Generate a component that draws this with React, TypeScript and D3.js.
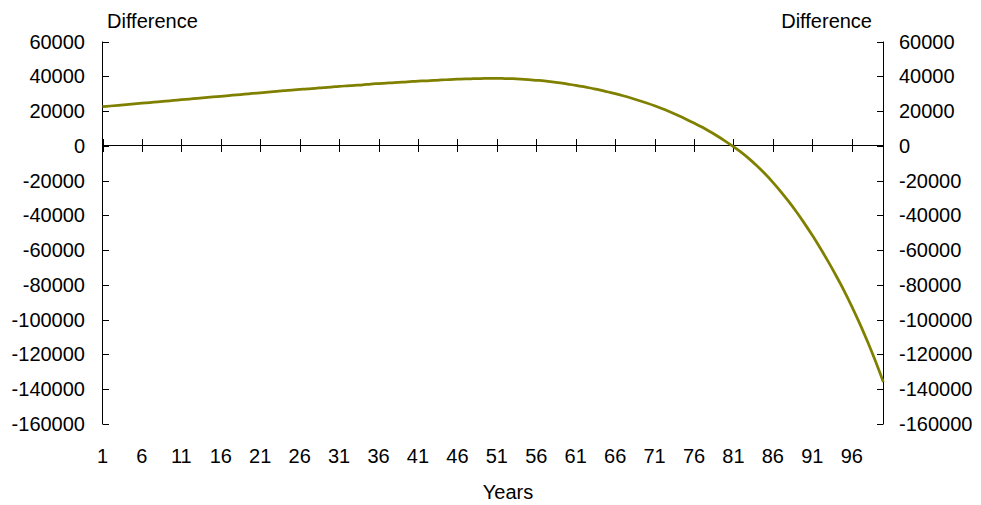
import React from "react";
import * as d3 from "d3";

const years: number[] = Array.from({ length: 100 }, (_, i) => i + 1);

const difference: number[] = [
  22500, 22900, 23300, 23700, 24100, 24500, 24900, 25300, 25700, 26100,
  26500, 26900, 27300, 27700, 28100, 28500, 28900, 29300, 29700, 30100,
  30500, 30900, 31300, 31700, 32000, 32400, 32800, 33100, 33500, 33800,
  34200, 34500, 34800, 35100, 35500, 35800, 36100, 36400, 36600, 36900,
  37200, 37400, 37700, 37900, 38100, 38300, 38500, 38600, 38700, 38800,
  38800, 38700, 38600, 38400, 38100, 37700, 37300, 36800, 36200, 35500,
  34800, 34000, 33100, 32200, 31100, 30000, 28800, 27500, 26100, 24600,
  23000, 21300, 19400, 17400, 15300, 13100, 10800, 8200, 5500, 2600,
  -500, -3800, -7500, -11600, -16100, -21000, -26300, -32000, -38100, -44600,
  -51500, -58800, -66500, -74600, -83100, -92300, -102100, -112600, -123800, -135800,
];

const yTicks: number[] = [60000, 40000, 20000, 0, -20000, -40000, -60000, -80000, -100000, -120000, -140000, -160000];
const xTickLabels: number[] = [1, 6, 11, 16, 21, 26, 31, 36, 41, 46, 51, 56, 61, 66, 71, 76, 81, 86, 91, 96];

const W = 981;
const H = 505;
const FONT = "'Liberation Sans', Arial, sans-serif";

export default function App() {
  const x = d3.scaleLinear().domain([1, 100]).range([102.5, 883.3]);
  const y = d3.scaleLinear().domain([-160000, 60000]).range([424, 41.5]);
  const line = d3
    .line<number>()
    .x((_, i) => x(years[i]))
    .y((d) => y(d))
    .curve(d3.curveMonotoneX);

  const y0 = Math.round(y(0)) - 0.5;
  const leftX = 102.5;
  const rightX = 883.5;

  return (
    <svg
      width={W}
      height={H}
      style={{ position: "absolute", left: 0, top: 0, background: "#fff" }}
      fontFamily={FONT}
    >
      <rect x={0} y={0} width={W} height={H} fill="#fff" />
      {/* left axis */}
      <line x1={leftX} x2={leftX} y1={y(60000)} y2={y(-160000)} stroke="#000" strokeWidth={1} />
      {yTicks.map((t) => (
        <g key={"l" + t}>
          <line x1={leftX} x2={leftX + 6.5} y1={Math.round(y(t)) + 0.5} y2={Math.round(y(t)) + 0.5} stroke="#000" />
          <text x={85} y={y(t)} dy="0.35em" textAnchor="end" fontSize={20} fill="#000">
            {t}
          </text>
        </g>
      ))}
      {/* right axis */}
      <line x1={rightX} x2={rightX} y1={y(60000)} y2={y(-160000)} stroke="#000" strokeWidth={1} />
      {yTicks.map((t) => (
        <g key={"r" + t}>
          <line x1={rightX - 6.5} x2={rightX} y1={Math.round(y(t)) + 0.5} y2={Math.round(y(t)) + 0.5} stroke="#000" />
          <text x={899} y={y(t)} dy="0.35em" textAnchor="start" fontSize={20} fill="#000">
            {t}
          </text>
        </g>
      ))}
      {/* x axis at zero */}
      <line x1={leftX} x2={rightX} y1={y0} y2={y0} stroke="#000" />
      {xTickLabels.map((t) => (
        <g key={"x" + t}>
          <line x1={Math.round(x(t)) + 0.5} x2={Math.round(x(t)) + 0.5} y1={y0 - 6.5} y2={y0 + 6.5} stroke="#000" />
          <text x={x(t)} y={463} textAnchor="middle" fontSize={20} fill="#000">
            {t}
          </text>
        </g>
      ))}
      {/* titles */}
      <text x={107} y={28} fontSize={20} fill="#000">Difference</text>
      <text x={872} y={28} textAnchor="end" fontSize={20} fill="#000">Difference</text>
      <text x={508} y={499} textAnchor="middle" fontSize={20} fill="#000">Years</text>
      {/* series */}
      <path d={line(difference) || ""} fill="none" stroke="#808000" strokeWidth={2.75} strokeLinejoin="round" />
    </svg>
  );
}
